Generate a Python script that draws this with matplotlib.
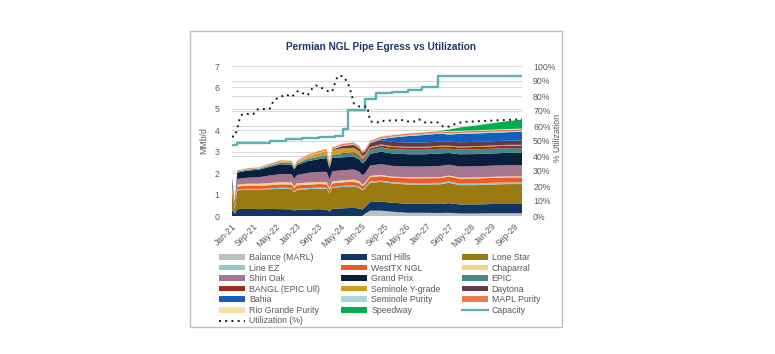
import pandas as pd
import matplotlib
matplotlib.use('Agg')
import matplotlib.pyplot as plt
from matplotlib.patches import Patch, Rectangle
from matplotlib.lines import Line2D
from matplotlib.ticker import MultipleLocator, FuncFormatter

plt.rcParams['font.family'] = ['Liberation Sans', 'DejaVu Sans']

# ---- data ----
dates = ['2021-01-01', '2021-02-01', '2021-03-01', '2021-07-01', '2021-11-01', '2022-03-01',
         '2022-07-01', '2022-11-01', '2022-12-01', '2023-01-01', '2023-05-01', '2023-09-01',
         '2023-12-01', '2024-01-01', '2024-02-01', '2024-06-01', '2024-10-01', '2024-12-01',
         '2025-01-01', '2025-02-01', '2025-04-01', '2025-08-01', '2025-12-01', '2026-06-01',
         '2026-12-01', '2027-06-01', '2027-09-01', '2028-01-01', '2028-07-01', '2029-01-01',
         '2029-07-01', '2029-12-01']

balance = [0, 0, 0, 0, 0, 0, 0, 0, 0, 0, 0, 0, 0, 0, 0, 0, 0, 0, 0, 0.10, 0.25, 0.25, 0.20, 0.15,
           0.15, 0.14, 0.15, 0.12, 0.12, 0.13, 0.13, 0.13]
sand_hills = [0.30, 0.10, 0.32, 0.33, 0.32, 0.33, 0.32, 0.31, 0.25, 0.30, 0.30, 0.32, 0.30, 0.20,
              0.33, 0.36, 0.38, 0.35, 0.30, 0.32, 0.40, 0.42, 0.42, 0.42, 0.42, 0.42, 0.45, 0.42,
              0.42, 0.43, 0.43, 0.43]
lone_star = [0.80, 0.20, 0.88, 0.90, 0.90, 0.92, 0.95, 0.95, 0.85, 0.92, 0.95, 0.96, 0.97, 0.85,
             0.98, 1.00, 1.00, 0.97, 0.90, 0.85, 0.90, 0.92, 0.90, 0.90, 0.90, 0.92, 0.95, 0.90,
             0.90, 0.91, 0.93, 0.93]
line_ez = [0.04, 0.01, 0.04, 0.04, 0.04, 0.04, 0.05, 0.05, 0.05, 0.05, 0.05, 0.05, 0.05, 0.04,
           0.05, 0.05, 0.05, 0.05, 0.05, 0.05, 0.06, 0.06, 0.06, 0.07, 0.07, 0.07, 0.07, 0.07,
           0.08, 0.08, 0.08, 0.08]
westtx = [0.13, 0.04, 0.14, 0.14, 0.15, 0.15, 0.16, 0.16, 0.15, 0.16, 0.16, 0.16, 0.16, 0.14,
          0.16, 0.16, 0.17, 0.16, 0.15, 0.16, 0.20, 0.21, 0.21, 0.22, 0.22, 0.22, 0.22, 0.23,
          0.23, 0.23, 0.23, 0.23]
chaparral = [0.08, 0.03, 0.09, 0.10, 0.10, 0.10, 0.10, 0.10, 0.09, 0.10, 0.10, 0.10, 0.10, 0.08,
             0.10, 0.10, 0.10, 0.09, 0.08, 0.07, 0.06, 0.06, 0.05, 0.05, 0.05, 0.05, 0.05, 0.05,
             0.05, 0.05, 0.05, 0.05]
shin_oak = [0.22, 0.08, 0.26, 0.28, 0.30, 0.35, 0.38, 0.38, 0.36, 0.38, 0.45, 0.47, 0.48, 0.40,
            0.47, 0.47, 0.47, 0.45, 0.43, 0.43, 0.48, 0.50, 0.50, 0.50, 0.50, 0.52, 0.50, 0.52,
            0.52, 0.52, 0.52, 0.52]
grand_prix = [0.18, 0.10, 0.30, 0.33, 0.35, 0.40, 0.45, 0.44, 0.42, 0.46, 0.55, 0.59, 0.64, 0.50,
              0.62, 0.60, 0.60, 0.57, 0.55, 0.55, 0.55, 0.58, 0.58, 0.57, 0.57, 0.58, 0.55, 0.57,
              0.57, 0.57, 0.58, 0.58]
epic = [0.04, 0.01, 0.04, 0.05, 0.05, 0.06, 0.08, 0.08, 0.07, 0.08, 0.10, 0.12, 0.13, 0.10,
        0.14, 0.15, 0.15, 0.14, 0.14, 0.15, 0.18, 0.20, 0.20, 0.21, 0.21, 0.22, 0.20, 0.22,
        0.22, 0.22, 0.22, 0.22]
bangl = [0, 0, 0, 0, 0, 0, 0, 0, 0, 0, 0, 0, 0, 0, 0, 0.05, 0.06, 0.06, 0.06, 0.07, 0.08, 0.09,
         0.10, 0.10, 0.10, 0.10, 0.10, 0.10, 0.11, 0.11, 0.11, 0.11]
seminole_y = [0, 0, 0, 0, 0, 0.02, 0.04, 0.04, 0.04, 0.06, 0.10, 0.17, 0.20, 0.15, 0.22, 0.22,
              0.20, 0.18, 0.15, 0.10, 0.06, 0.05, 0.04, 0.04, 0.04, 0.04, 0.04, 0.04, 0.04,
              0.04, 0.04, 0.04]
daytona = [0, 0, 0, 0, 0, 0, 0, 0, 0, 0, 0, 0, 0, 0, 0.03, 0.12, 0.14, 0.14, 0.14, 0.15, 0.18,
           0.20, 0.20, 0.20, 0.20, 0.20, 0.20, 0.20, 0.20, 0.20, 0.20, 0.20]
bahia = [0, 0, 0, 0, 0, 0, 0, 0, 0, 0, 0, 0, 0, 0, 0, 0, 0, 0, 0, 0, 0, 0.05, 0.20, 0.30, 0.35,
         0.37, 0.32, 0.39, 0.39, 0.39, 0.39, 0.41]
seminole_purity = [0.02, 0.01, 0.02, 0.02, 0.02, 0.02, 0.02, 0.02, 0.02, 0.02, 0.03, 0.03, 0.03,
                   0.02, 0.03, 0.03, 0.03, 0.03, 0.03, 0.03, 0.03, 0.04, 0.04, 0.05, 0.05, 0.05,
                   0.05, 0.05, 0.05, 0.05, 0.05, 0.05]
mapl_purity = [0.03, 0.01, 0.04, 0.04, 0.04, 0.05, 0.05, 0.05, 0.05, 0.05, 0.06, 0.06, 0.07, 0.05,
               0.07, 0.07, 0.07, 0.07, 0.07, 0.07, 0.07, 0.07, 0.07, 0.07, 0.07, 0.07, 0.07, 0.07,
               0.07, 0.07, 0.07, 0.07]
rio_grande = [0.01, 0.01, 0.01, 0.01, 0.01, 0.01, 0.02, 0.02, 0.02, 0.02, 0.02, 0.02, 0.02, 0.02,
              0.02, 0.03, 0.03, 0.03, 0.03, 0.03, 0.03, 0.03, 0.03, 0.03, 0.03, 0.03, 0.03, 0.03,
              0.03, 0.03, 0.03, 0.03]
speedway = [0, 0, 0, 0, 0, 0, 0, 0, 0, 0, 0, 0, 0, 0, 0, 0, 0, 0, 0, 0, 0, 0, 0, 0, 0, 0,
            0.08, 0.15, 0.22, 0.30, 0.37, 0.42]

cap_dates = ['2021-01-01', '2021-03-01', '2022-03-01', '2022-09-01', '2023-03-01', '2023-09-01',
             '2024-03-01', '2024-06-01', '2024-08-01', '2025-02-01', '2025-06-01', '2025-12-01',
             '2026-06-01', '2026-11-01', '2027-05-01', '2029-12-01']
capacity = [3.33, 3.41, 3.50, 3.58, 3.63, 3.69, 3.72, 4.08, 4.93, 5.47, 5.74, 5.81, 5.89, 6.02,
            6.53, 6.53]

util_dates = ['2021-01-01', '2021-02-01', '2021-03-01', '2021-04-01', '2021-05-01', '2021-09-01',
              '2021-10-01', '2022-03-01', '2022-04-01', '2022-05-01', '2022-07-01', '2022-08-01',
              '2022-09-01', '2022-11-01', '2023-01-01', '2023-02-01', '2023-03-01', '2023-05-01',
              '2023-07-01', '2023-08-01', '2023-09-01', '2023-11-01', '2024-01-01', '2024-02-01',
              '2024-03-01', '2024-04-01', '2024-06-01', '2024-07-01', '2024-08-01', '2024-09-01',
              '2024-10-01', '2024-12-01', '2025-03-01', '2025-04-01', '2025-08-01', '2025-09-01',
              '2026-05-01', '2026-06-01', '2026-09-01', '2026-10-01', '2026-12-01', '2027-05-01',
              '2027-07-01', '2027-09-01', '2027-11-01', '2028-02-01', '2029-12-01']
utilization = [53, 53, 58, 66, 68, 68, 71, 71.5, 75.5, 78, 79, 80.5, 81, 79.3, 83, 83.3, 82, 80.5,
               86, 87, 86.5, 84.5, 82.7, 83.1, 88.4, 93.3, 93.3, 90.7, 87.3, 81.8, 75, 73, 72.9,
               63, 62.3, 63.5, 64, 63, 63, 64.4, 62.4, 62.4, 59.6, 59.6, 61.1, 62.7, 64.5]

names = ['Balance (MARL)', 'Sand Hills', 'Lone Star', 'Line EZ', 'WestTX NGL', 'Chaparral',
         'Shin Oak', 'Grand Prix', 'EPIC', 'BANGL (EPIC Ull)', 'Seminole Y-grade', 'Daytona',
         'Bahia', 'Seminole Purity', 'MAPL Purity', 'Rio Grande Purity', 'Speedway']
layers = [balance, sand_hills, lone_star, line_ez, westtx, chaparral, shin_oak, grand_prix, epic,
          bangl, seminole_y, daytona, bahia, seminole_purity, mapl_purity, rio_grande, speedway]
colors = ['#BFBFBF', '#0E3766', '#9A7B12', '#8FC9CA', '#EE5A2A', '#F3D48A', '#A6758F', '#0A1F3D',
          '#43878A', '#9E2C16', '#D29E22', '#5F3B52', '#1060BE', '#A9D7D8', '#F2764E', '#F6DFA0',
          '#00AE4F']
cap_color = '#5BB0B2'
grey = '#595959'

W, H = 775, 354
fig = plt.figure(figsize=(W / 100, H / 100), dpi=100)
ax = fig.add_axes([232 / W, 1 - 216 / H, (522 - 232) / W, (216 - 66) / H])
ax2 = ax.twinx()

x = pd.to_datetime(dates)
ax.stackplot(x, *layers, colors=colors, linewidth=0, zorder=2)
ax.plot(pd.to_datetime(cap_dates), capacity, color=cap_color, lw=1.7, drawstyle='steps-post', zorder=3)
ax2.plot(pd.to_datetime(util_dates), utilization, color='#1a1a1a', lw=1.4, linestyle=(0, (1, 2.2)))

ax.set_xlim(pd.Timestamp('2021-01-01'), pd.Timestamp('2029-12-01'))
ax.set_ylim(0, 7)
ax2.set_ylim(0, 100)
ax.yaxis.set_major_locator(MultipleLocator(1))
ax.yaxis.set_minor_locator(MultipleLocator(0.7))
ax2.yaxis.set_major_locator(MultipleLocator(10))
ax2.yaxis.set_major_formatter(FuncFormatter(lambda v, p: '%d%%' % v))
ax.grid(axis='y', which='both', color='#D9D9D9', lw=0.8, zorder=0)
ax.set_axisbelow(True)

ticks = pd.date_range('2021-01-01', periods=14, freq='8MS')
ax.set_xticks(ticks)
ax.set_xticklabels([t.strftime('%b-%y') for t in ticks], rotation=45, ha='right',
                   rotation_mode='anchor')

for a in (ax, ax2):
    for s in a.spines.values():
        s.set_visible(False)
    a.tick_params(which='both', length=0, labelsize=6.3, colors=grey)
ax.tick_params(axis='y', pad=9)
ax.tick_params(axis='x', pad=4)
ax2.tick_params(axis='y', pad=8)

ax.set_ylabel('MMb/d', fontsize=6.3, color=grey)
ax.yaxis.set_label_coords((208 - 232) / 290, 0.5)
ax2.set_ylabel('% Utilization', fontsize=6.3, color=grey)
ax2.yaxis.set_label_coords((553 - 232) / 290, 0.52)

fig.text(381 / W, 1 - 47 / H, 'Permian NGL Pipe Egress vs Utilization', ha='center', va='center',
         fontsize=7.3, fontweight='bold', color='#1F3864',
         family=['Liberation Sans Narrow', 'Liberation Sans', 'DejaVu Sans'])

# legend, filled row by row like the original
handles = [Patch(facecolor=c, edgecolor='none') for c in colors]
handles.append(Line2D([], [], color=cap_color, lw=1.6))
handles.append(Line2D([], [], color='#1a1a1a', lw=1.4, linestyle=(0, (1, 2.2))))
labels = names + ['Capacity', 'Utilization (%)']
order = [0, 3, 6, 9, 12, 15, 18, 1, 4, 7, 10, 13, 16, 2, 5, 8, 11, 14, 17]
leg = fig.legend([handles[i] for i in order], [labels[i] for i in order], ncol=3,
                 loc='upper left', bbox_to_anchor=(219 / W, 1 - 253 / H), frameon=False,
                 fontsize=6.3, handlelength=3.0, handleheight=0.6, handletextpad=0.45,
                 columnspacing=2.4, labelspacing=0.18, borderaxespad=0, borderpad=0)
for t in leg.get_texts():
    t.set_color(grey)

fig.patches.append(Rectangle((190 / W, 1 - 327 / H), (562 - 190) / W, (327 - 31) / H,
                             transform=fig.transFigure, fill=False, edgecolor='#BFBFBF', lw=1))

fig.savefig('out.png', dpi=100)
